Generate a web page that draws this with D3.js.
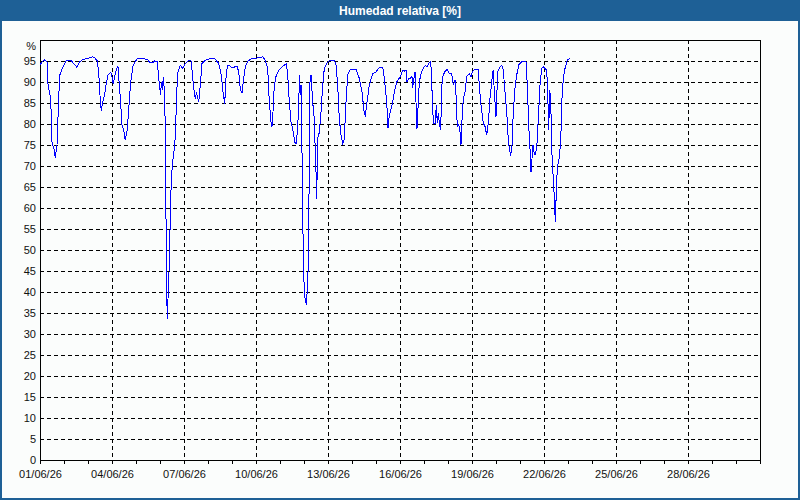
<!DOCTYPE html>
<html>
<head>
<meta charset="utf-8">
<script src="https://cdn.jsdelivr.net/npm/d3@7"></script>
<style>
  body { margin: 0; background: #fbfdfc; }
  svg { display: block; }
  .axis text { font-family: "Liberation Sans", Arial, sans-serif; font-size: 11px; fill: #111; }
</style>
</head>
<body>
<svg id="chart" width="800" height="500"></svg>
<script>
// Humedad relativa — hourly offsets from 01/06/26 00:00 and readings (%)
const START = new Date(2026, 5, 1);
const END = new Date(2026, 6, 1);

const hourOffsets = [
  0, 2, 5, 7, 8, 10.7, 12, 14, 15.3, 17, 18.7, 19.7, 23, 26.3, 30.7, 34.7, 37, 39.7, 43, 48,
  52.3, 54.7, 57.3, 58.7, 60, 61.3, 62.3, 64.7, 66.3, 68, 70.7, 72, 73.3, 74.7, 76.7, 78, 79, 80.3, 82, 83.7,
  85.3, 87.3, 89, 90.7, 93, 97.3, 104, 108, 109.7, 113, 114.7, 117.3, 118.7, 119.7, 120.7, 121.3, 122.3, 123.3, 124.7, 125.7,
  126.3, 127.3, 128, 129, 130.3, 131.3, 133, 134.7, 135.5, 136.7, 138, 140.3, 142.7, 145.3, 148.7, 151.3, 152.7, 154.3, 155.3, 156.3,
  157.7, 158.7, 160.3, 162, 165.3, 170.3, 174.7, 178.7, 181.3, 183, 184.7, 186, 187.3, 189.3, 192, 194.7, 197, 198.7, 200.3, 202,
  203.7, 205.3, 208, 212, 217, 222.7, 225.3, 227.7, 229.3, 231, 232, 233, 234.3, 236, 238.7, 242, 246.3, 247.7, 249.3, 251,
  252.7, 254.7, 256, 257.7, 259.7, 260.3, 261.3, 262.7, 264, 265.3, 266.3, 267.7, 268.7, 269.3, 270, 271, 272.7, 274.3, 275.3, 276,
  276.7, 277.7, 279.3, 281, 282.7, 284.3, 286.7, 289.3, 294.3, 296, 297.7, 299.3, 301, 302.7, 304.3, 306, 307.7, 310.3, 316, 319.3,
  322, 324.3, 325.3, 327, 329.3, 332.7, 336, 339.3, 342.7, 344.3, 346, 347.3, 348, 349.3, 350.7, 352.7, 354.3, 356.7, 359.3, 361,
  362.7, 364.3, 366, 367, 368.7, 370.3, 372, 372.7, 373.7, 375, 376, 377, 378.3, 379.3, 381, 383.3, 385.3, 387, 388.7, 390.3,
  391.3, 392.7, 393.7, 395.3, 396.3, 397.3, 398.3, 399.3, 400.7, 401.7, 402.7, 404.7, 407.3, 409.3, 411.7, 413.3, 415, 416, 417.3, 418.7,
  420, 421, 421.7, 423.3, 425, 426.7, 429.3, 431, 432.7, 435, 438.3, 439.3, 440.7, 442.3, 443.3, 445, 446.7, 448.3, 450, 451.7,
  452.7, 453.3, 454, 455, 456, 456.7, 457.7, 459.3, 461.7, 463.3, 465, 466.7, 468.3, 469.3, 470.7, 472, 473.3, 475, 476.7, 479,
  481.7, 486, 487.3, 488.7, 490, 491, 492, 493, 494, 495, 496.7, 498.3, 500, 501.7, 503.3, 505, 506.7, 507.7, 508.7, 509.7,
  510.7, 511.7, 512.7, 514, 515.3, 516.3, 517.3, 519, 520.7, 522, 523.3, 525, 527.3, 530
];

const rhValues = [
  94, 94.8, 95.3, 94.8, 89.5, 86, 75.7, 74, 72, 75, 86, 91.6, 93.6, 95.2, 95.2, 94.1, 93.5, 94.8, 95.4, 95.6,
  96, 95.8, 95, 92.4, 86.8, 83, 84.8, 87, 89.7, 91.6, 92.3, 91.3, 89.5, 91.3, 93.2, 93.7, 90.2, 86.3, 79.7, 78.5,
  76.1, 78.8, 84.4, 90, 93.9, 95.6, 95.6, 95.2, 94.6, 94.6, 95, 94.8, 90.9, 88.6, 86.8, 90, 88.1, 91.1, 87, 71.7,
  44.8, 33.6, 38.4, 44.8, 57.5, 67, 71.7, 74.9, 78, 87.6, 92.4, 94, 93.2, 94.4, 95.2, 95, 90.9, 87.6, 86, 87.3,
  86.4, 85.2, 89.2, 94.4, 95.2, 95.6, 95.6, 94.4, 91.7, 87.6, 84.8, 90.9, 93.8, 94, 93.3, 93.6, 93.8, 92.4, 88.4, 87.3,
  90.9, 93.7, 95, 95.6, 95.7, 96, 95.2, 93.2, 85.2, 80.5, 79.4, 82.9, 89.2, 91.3, 92.8, 93.6, 94.4, 91.7, 85.2, 80.5,
  78.9, 75.7, 75.3, 78.9, 91.7, 86.9, 89.2, 57.5, 42.4, 37.6, 37.2, 41.6, 51.9, 73.3, 90, 91.7, 85.2, 81.3, 73.3, 68.6,
  62.2, 76.5, 78, 82.8, 89.2, 93.2, 94.4, 95, 95.2, 94, 89.2, 81.3, 77.3, 75.3, 76.5, 85.2, 91.7, 93, 93, 90.9,
  87.6, 82.5, 82.1, 85.2, 89.2, 92, 92.4, 93.5, 93.5, 90.9, 86.9, 82.9, 79, 82, 83.2, 85.2, 87.6, 90, 90.9, 91.7,
  92.8, 92.6, 92.8, 90, 90.9, 90.9, 91.3, 88.6, 90.5, 92.4, 85.2, 78.9, 85.2, 90, 92, 93.2, 94, 93.6, 94.4, 94.8,
  93.2, 82.9, 80.2, 80.2, 84.4, 80.2, 82.5, 80.2, 78.5, 88.6, 91.3, 92.4, 93, 92, 92, 89.2, 90.5, 86.9, 79.4, 79.8,
  78.2, 75, 79.8, 86.1, 87.6, 91.3, 92, 91.3, 92.6, 93, 93, 89.2, 85.2, 82.1, 80.2, 79.4, 77.4, 80.2, 86.1, 90,
  92.4, 92.8, 89.2, 85.2, 81.7, 86.1, 92.4, 93.3, 94, 92.8, 87.6, 82.9, 76.1, 74.1, 72.5, 75, 82.9, 88.6, 91.7, 94.2,
  94.8, 94.8, 89.2, 79.8, 74.1, 68.6, 71.7, 75, 73.4, 72.6, 74.1, 81.3, 89.2, 93.2, 93.6, 93.2, 92.8, 87.6, 78.5, 88.1,
  86.1, 74.1, 69.4, 63.8, 56.7, 63.8, 69.4, 71.7, 75.7, 86.1, 90.9, 93.2, 95.2, 95.7
];

const yTicks = d3.range(0, 100, 5);
const chartTitle = 'Humedad relativa [%]';
const unitLabel = '%';

const W = 800, H = 500;
const MARGIN = { top: 40, right: 40, bottom: 40, left: 40 };
const BAR = '#1e6096';
const width = W - MARGIN.left - MARGIN.right;
const height = H - MARGIN.top - MARGIN.bottom;

const svg = d3.select('#chart');

// window frame + title bar
svg.append('rect').attr('x', 1).attr('y', 1).attr('width', W - 2).attr('height', H - 2)
    .attr('fill', '#fbfdfc').attr('stroke', BAR).attr('stroke-width', 2);
svg.append('rect').attr('width', W).attr('height', 21).attr('fill', BAR);
svg.append('text')
    .attr('x', W / 2).attr('y', 15)
    .attr('text-anchor', 'middle')
    .attr('fill', '#fff')
    .style('font-family', '"Liberation Sans", Arial, sans-serif')
    .style('font-size', '12px').style('font-weight', 'bold')
    .text(chartTitle);

const g = svg.append('g').attr('transform', `translate(${MARGIN.left},${MARGIN.top})`);

const x = d3.scaleTime().domain([START, END]).range([0, width]);
const y = d3.scaleLinear().domain([0, 100]).range([height, 0]);

const days = d3.timeDay.range(START, d3.timeDay.offset(END, 1));
const majorDays = days.filter(d => d.getMonth() === 5 && (d.getDate() - 1) % 3 === 0);
const fmt = d3.timeFormat('%d/%m/%y');

// grid
g.append('g').attr('class', 'grid-y')
  .selectAll('line').data(yTicks.filter(v => v > 0)).join('line')
    .attr('x1', 0).attr('x2', width)
    .attr('y1', d => y(d)).attr('y2', d => y(d))
    .attr('stroke', '#000').attr('stroke-dasharray', '4,3')
    .attr('shape-rendering', 'crispEdges');

g.append('g').attr('class', 'grid-x')
  .selectAll('line').data(majorDays.slice(1)).join('line')
    .attr('x1', d => x(d)).attr('x2', d => x(d))
    .attr('y1', 0).attr('y2', height)
    .attr('stroke', '#000').attr('stroke-dasharray', '4,3')
    .attr('shape-rendering', 'crispEdges');

// axes
const xAxis = g.append('g').attr('class', 'axis')
    .attr('transform', `translate(0,${height})`)
    .call(d3.axisBottom(x).tickValues(days).tickSize(4).tickSizeOuter(0).tickPadding(6)
        .tickFormat(d => majorDays.some(m => +m === +d) ? fmt(d) : ''));
xAxis.selectAll('line, path').attr('stroke', '#000').attr('shape-rendering', 'crispEdges');

const yAxis = g.append('g').attr('class', 'axis')
    .call(d3.axisLeft(y).tickValues(yTicks).tickSize(0).tickPadding(4));
yAxis.select('.domain').remove();
yAxis.append('text')
    .attr('x', -4).attr('y', 6).attr('dy', '0.32em')
    .attr('text-anchor', 'end')
    .text(unitLabel);

// frame
g.append('rect').attr('width', width).attr('height', height)
    .attr('fill', 'none').attr('stroke', '#000').attr('shape-rendering', 'crispEdges');

// series
const data = hourOffsets.map((h, i) => ({ t: new Date(+START + h * 3600e3), v: rhValues[i] }));

const line = d3.line()
    .x(d => x(d.t))
    .y(d => y(d.v));

g.append('path')
    .datum(data)
    .attr('fill', 'none')
    .attr('stroke', '#0000ff')
    .attr('stroke-width', 1)
    .attr('shape-rendering', 'crispEdges')
    .attr('d', line);
</script>
</body>
</html>
